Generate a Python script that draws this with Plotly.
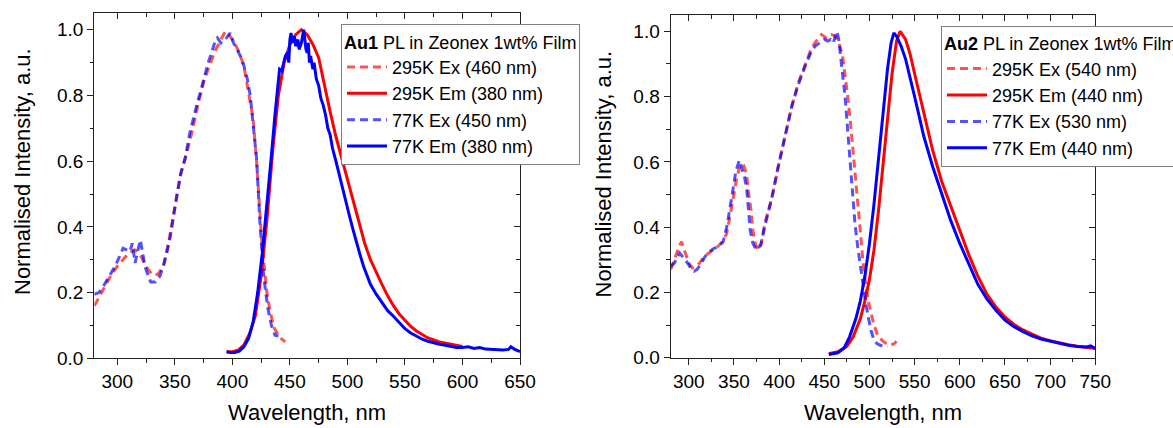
import plotly.graph_objects as go

# ---------------- Data ----------------
# Au1 panel
au1_ex295_x = [280, 285, 290, 295, 300, 305, 310, 315, 320, 325, 330, 335, 340, 345, 350, 355, 360, 365, 370, 375,
               380, 385, 390, 394, 398, 402, 406, 410, 414, 418, 421, 423, 425.5, 428, 430, 433, 436, 440, 443, 446]
au1_ex295_y = [0.16, 0.19, 0.225, 0.255, 0.28, 0.30, 0.32, 0.33, 0.315, 0.28, 0.255, 0.255, 0.28, 0.36, 0.46, 0.56, 0.62, 0.69, 0.77, 0.84,
               0.89, 0.935, 0.97, 0.995, 0.98, 0.96, 0.93, 0.89, 0.81, 0.73, 0.60, 0.49, 0.36, 0.27, 0.20, 0.14, 0.095, 0.07, 0.058, 0.05]

au1_em295_x = [395, 400, 405, 410, 415, 420, 425, 430, 435, 440, 445, 450, 455, 460, 465, 470, 475, 480, 485, 490,
               495, 500, 505, 510, 515, 520, 525, 530, 535, 540, 545, 550, 555, 560, 570, 580, 590, 600]
au1_em295_y = [0.02, 0.02, 0.025, 0.04, 0.075, 0.13, 0.25, 0.42, 0.63, 0.80, 0.90, 0.955, 0.985, 1.0, 0.985, 0.955, 0.915, 0.83, 0.75, 0.675,
               0.61, 0.545, 0.475, 0.41, 0.35, 0.30, 0.26, 0.225, 0.19, 0.16, 0.135, 0.115, 0.097, 0.083, 0.062, 0.05, 0.042, 0.036]

au1_ex77_x = [280, 284, 288, 293, 298, 302, 305, 308, 311, 313, 315.5, 318, 320, 322, 324, 327, 329, 333, 337, 340,
              343, 346, 349, 352, 355, 359, 363, 366, 369, 373, 376, 379, 382, 385, 387, 390, 392, 395, 398, 401,
              404, 407, 410, 413, 415.5, 418, 421, 424, 427, 429, 431, 434, 437, 440]
au1_ex77_y = [0.195, 0.20, 0.22, 0.25, 0.28, 0.31, 0.335, 0.33, 0.325, 0.35, 0.29, 0.33, 0.36, 0.32, 0.28, 0.25, 0.232, 0.232, 0.25, 0.28,
              0.32, 0.37, 0.44, 0.50, 0.56, 0.61, 0.685, 0.73, 0.77, 0.82, 0.865, 0.90, 0.93, 0.965, 0.975, 0.96, 0.97, 0.975, 0.99, 0.96,
              0.94, 0.92, 0.89, 0.85, 0.80, 0.72, 0.61, 0.41, 0.26, 0.20, 0.15, 0.10, 0.07, 0.068]

au1_em77_x = [395, 398, 402, 406, 410, 414, 418, 422, 426, 430, 434, 437, 440, 441, 443, 445, 446, 448, 449, 450,
              451, 452, 454, 455, 457, 458, 460, 462, 463, 464, 465, 466, 467, 468, 470, 471, 473, 475, 477, 479,
              481, 483, 485, 487, 490, 493, 496, 499, 502, 505, 508, 511, 514, 517, 520, 525, 530, 535, 540, 545,
              550, 555, 560, 565, 570, 575, 580, 585, 590, 595, 600, 605, 610, 615, 620, 625, 630, 635, 640, 642,
              645, 650]
au1_em77_y = [0.02, 0.018, 0.018, 0.022, 0.035, 0.06, 0.11, 0.20, 0.32, 0.46, 0.62, 0.74, 0.84, 0.88, 0.875, 0.90, 0.92, 0.93, 0.90, 0.97,
              0.99, 0.96, 0.98, 0.95, 0.97, 0.94, 0.96, 1.0, 0.97, 0.94, 0.93, 0.96, 0.90, 0.92, 0.88, 0.90, 0.85, 0.83, 0.79, 0.77,
              0.74, 0.70, 0.68, 0.64, 0.60, 0.555, 0.52, 0.475, 0.43, 0.39, 0.35, 0.315, 0.28, 0.25, 0.225, 0.195, 0.17, 0.145, 0.128, 0.108,
              0.09, 0.077, 0.067, 0.058, 0.052, 0.047, 0.043, 0.040, 0.037, 0.033, 0.033, 0.035, 0.030, 0.033, 0.028, 0.027, 0.026, 0.025, 0.027, 0.035,
              0.028, 0.02]

# Au2 panel
au2_ex295_x = [280, 285, 290, 292, 296, 300, 304, 308, 312, 317, 322, 327, 332, 337, 342, 348, 353, 357, 360, 362,
               364, 366, 369, 371, 374, 377, 380, 384, 392, 399, 406, 414, 421, 429, 436, 441, 447, 452, 458, 462,
               466, 470, 473, 476, 479, 482, 486, 489.5, 493, 496, 499, 502, 505, 509, 514, 519, 523, 527, 530]
au2_ex295_y = [0.27, 0.31, 0.345, 0.355, 0.32, 0.29, 0.275, 0.28, 0.29, 0.31, 0.32, 0.33, 0.34, 0.355, 0.38, 0.47, 0.55, 0.59, 0.595, 0.58,
               0.56, 0.51, 0.45, 0.39, 0.345, 0.33, 0.345, 0.41, 0.49, 0.585, 0.675, 0.77, 0.84, 0.90, 0.95, 0.97, 0.99, 0.98, 0.99, 0.985,
               0.965, 0.93, 0.87, 0.80, 0.72, 0.635, 0.51, 0.40, 0.29, 0.22, 0.17, 0.13, 0.10, 0.07, 0.053, 0.042, 0.039, 0.042, 0.05]

au2_em295_x = [455, 465, 475, 482, 490, 495, 500, 505, 510, 515, 520, 525, 530, 534, 540, 545, 550, 555, 560, 565,
               570, 580, 590, 600, 610, 620, 630, 640, 650, 660, 670, 680, 690, 700, 710, 720, 730, 740, 750]
au2_em295_y = [0.012, 0.018, 0.035, 0.064, 0.12, 0.175, 0.24, 0.33, 0.45, 0.59, 0.73, 0.87, 0.97, 1.0, 0.975, 0.93, 0.87, 0.81, 0.75, 0.69,
               0.635, 0.54, 0.465, 0.385, 0.315, 0.25, 0.195, 0.155, 0.125, 0.102, 0.085, 0.072, 0.06, 0.052, 0.045, 0.04, 0.035, 0.032, 0.028]

au2_ex77_x = [280, 284, 287, 290, 293, 296, 300, 303, 306, 309, 313, 318, 323, 328, 333, 338, 342, 347.5, 352, 356,
              359, 362, 364, 366, 368, 371, 375, 378, 380, 384, 392, 399, 406, 414, 421, 429, 436, 440, 445, 450,
              454, 457, 460, 462, 464, 466, 468, 471, 473, 475, 477, 480, 482, 484, 487, 490, 493, 496, 499, 502,
              505, 508, 512, 517, 520]
au2_ex77_y = [0.28, 0.29, 0.305, 0.32, 0.31, 0.30, 0.285, 0.27, 0.265, 0.27, 0.285, 0.31, 0.325, 0.335, 0.34, 0.355, 0.40, 0.49, 0.57, 0.605,
              0.58, 0.55, 0.52, 0.45, 0.39, 0.35, 0.33, 0.34, 0.35, 0.40, 0.49, 0.585, 0.675, 0.77, 0.835, 0.895, 0.94, 0.955, 0.965, 0.975,
              0.97, 0.975, 0.965, 0.98, 1.0, 0.975, 0.93, 0.86, 0.80, 0.73, 0.66, 0.54, 0.47, 0.41, 0.34, 0.28, 0.22, 0.165, 0.12, 0.08,
              0.055, 0.044, 0.038, 0.034, 0.036]

au2_em77_x = [455, 465, 472, 478, 485, 490, 495, 500, 505, 510, 515, 520, 524, 527, 530, 535, 540, 545, 550, 555,
              560, 570, 580, 590, 600, 610, 620, 630, 640, 650, 660, 670, 680, 690, 700, 710, 720, 730, 740, 745, 750]
au2_em77_y = [0.01, 0.015, 0.03, 0.064, 0.12, 0.175, 0.25, 0.35, 0.47, 0.61, 0.75, 0.885, 0.965, 0.995, 0.985, 0.955, 0.915, 0.86, 0.80, 0.74,
              0.68, 0.585, 0.50, 0.42, 0.35, 0.285, 0.225, 0.18, 0.145, 0.115, 0.095, 0.08, 0.067, 0.057, 0.05, 0.044, 0.038, 0.034, 0.033, 0.036, 0.028]

legend_names_au1 = ["295K Ex (460 nm)", "295K Em (380 nm)", "77K Ex (450 nm)", "77K Em (380 nm)"]
legend_names_au2 = ["295K Ex (540 nm)", "295K Em (440 nm)", "77K Ex (530 nm)", "77K Em (440 nm)"]

x_tick_au1 = [300, 350, 400, 450, 500, 550, 600, 650]
x_tick_au2 = [300, 350, 400, 450, 500, 550, 600, 650, 700, 750]
y_ticks = [0.0, 0.2, 0.4, 0.6, 0.8, 1.0]

# ---------------- Styles ----------------
FONT = "Liberation Sans, Arial, sans-serif"
RED = "#ff0000"
BLUE = "#0000ff"
RED_D = "rgba(255,0,0,0.68)"
BLUE_D = "rgba(0,0,255,0.68)"
DASH = "8px,5px"
LW = 3

fig = go.Figure()

def add_panel(xa, ya, legend, data, names):
    styles = [(RED_D, DASH), (RED, "solid"), (BLUE_D, DASH), (BLUE, "solid")]
    for (xs, ys), nm, (col, dash) in zip(data, names, styles):
        fig.add_trace(go.Scatter(x=xs, y=ys, mode="lines", name=nm,
                                 line=dict(color=col, width=LW, dash=dash),
                                 xaxis=xa, yaxis=ya, legend=legend, hoverinfo="skip"))

add_panel("x", "y", "legend",
          [(au1_ex295_x, au1_ex295_y), (au1_em295_x, au1_em295_y),
           (au1_ex77_x, au1_ex77_y), (au1_em77_x, au1_em77_y)], legend_names_au1)
add_panel("x2", "y2", "legend2",
          [(au2_ex295_x, au2_ex295_y), (au2_em295_x, au2_em295_y),
           (au2_ex77_x, au2_ex77_y), (au2_em77_x, au2_em77_y)], legend_names_au2)

# dummy traces to show mirrored inward ticks
for xa, ya in [("x3", "y3"), ("x4", "y4")]:
    fig.add_trace(go.Scatter(x=[None], y=[None], xaxis=xa, yaxis=ya, showlegend=False, hoverinfo="skip"))

AX = "#222222"
tickfont = dict(family=FONT, size=19, color="black")

def xaxis_main(domain, rng, ticks, anchor):
    return dict(domain=domain, range=rng, anchor=anchor, tickvals=ticks, ticks="outside", ticklen=6, tickwidth=1.3,
                tickcolor=AX, showline=True, linecolor=AX, linewidth=1.3, showgrid=False, zeroline=False,
                tickfont=tickfont, minor=dict(dtick=25, tick0=275, ticks="outside", ticklen=3.5, tickwidth=1.2, tickcolor=AX),
                fixedrange=True)

def yaxis_main(domain, anchor):
    return dict(domain=domain, range=[0, 1.05], anchor=anchor, tickvals=y_ticks, tickformat=".1f", ticks="outside",
                ticklen=6, tickwidth=1.3, tickcolor=AX, showline=True, linecolor=AX, linewidth=1.3, showgrid=False,
                zeroline=False, tickfont=tickfont,
                minor=dict(dtick=0.1, tick0=0, ticks="outside", ticklen=3.5, tickwidth=1.2, tickcolor=AX),
                fixedrange=True)

def xaxis_top(over, rng, ticks, anchor):
    return dict(overlaying=over, side="top", anchor=anchor, range=rng, tickvals=ticks, ticks="inside", ticklen=6,
                tickwidth=1.3, tickcolor=AX, showline=True, linecolor=AX, linewidth=1.3, showticklabels=False,
                showgrid=False, zeroline=False,
                minor=dict(dtick=25, tick0=275, ticks="inside", ticklen=3.5, tickwidth=1.2, tickcolor=AX))

def yaxis_right(over, anchor):
    return dict(overlaying=over, side="right", anchor=anchor, range=[0, 1.05], tickvals=y_ticks, ticks="inside",
                ticklen=6, tickwidth=1.3, tickcolor=AX, showline=True, linecolor=AX, linewidth=1.3,
                showticklabels=False, showgrid=False, zeroline=False,
                minor=dict(dtick=0.1, tick0=0, ticks="inside", ticklen=3.5, tickwidth=1.2, tickcolor=AX))

W, H = 1173, 428
dom1x = [94.3 / W, 520 / W]
dom2x = [670.7 / W, 1095.3 / W]
dom1y = [1 - 358.3 / H, 1 - 13.3 / H]
dom2y = [1 - 357.7 / H, 1 - 15 / H]

legfont = dict(family=FONT, size=18, color="black")

fig.update_layout(
    width=W, height=H,
    margin=dict(l=0, r=0, t=0, b=0, autoexpand=False),
    paper_bgcolor="white", plot_bgcolor="white",
    font=dict(family=FONT, color="black"),
    xaxis=xaxis_main(dom1x, [280, 650], x_tick_au1, "y"),
    yaxis=yaxis_main(dom1y, "x"),
    xaxis2=xaxis_main(dom2x, [280, 750], x_tick_au2, "y2"),
    yaxis2=yaxis_main(dom2y, "x2"),
    xaxis3=xaxis_top("x", [280, 650], x_tick_au1, "y3"),
    yaxis3=yaxis_right("y", "x3"),
    xaxis4=xaxis_top("x2", [280, 750], x_tick_au2, "y4"),
    yaxis4=yaxis_right("y2", "x4"),
    legend=dict(x=341 / W, y=1 - 24.3 / H, xanchor="left", yanchor="top", xref="paper", yref="paper",
                bgcolor="white", bordercolor="#808080", borderwidth=1, font=legfont,
                title=dict(text="<b>Au1</b> PL in Zeonex 1wt% Film", font=legfont, side="top"),
                itemwidth=40, tracegroupgap=0),
    legend2=dict(x=941 / W, y=1 - 26 / H, xanchor="left", yanchor="top", xref="paper", yref="paper",
                 bgcolor="white", bordercolor="#808080", borderwidth=1, font=legfont,
                 title=dict(text="<b>Au2</b> PL in Zeonex 1wt% Film", font=legfont, side="top"),
                 itemwidth=40, tracegroupgap=0),
    showlegend=True,
)

titlefont = dict(family=FONT, size=22, color="black")
annots = [
    dict(text="Normalised Intensity, a.u.", x=23 / W, y=1 - 172 / H, textangle=-90),
    dict(text="Normalised Intensity, a.u.", x=603 / W, y=1 - 174.5 / H, textangle=-90),
    dict(text="Wavelength, nm", x=307 / W, y=1 - 412 / H, textangle=0),
    dict(text="Wavelength, nm", x=883 / W, y=1 - 412 / H, textangle=0),
]
for a in annots:
    fig.add_annotation(xref="paper", yref="paper", showarrow=False, xanchor="center", yanchor="middle",
                       font=titlefont, **a)

fig.write_html("out.html")
